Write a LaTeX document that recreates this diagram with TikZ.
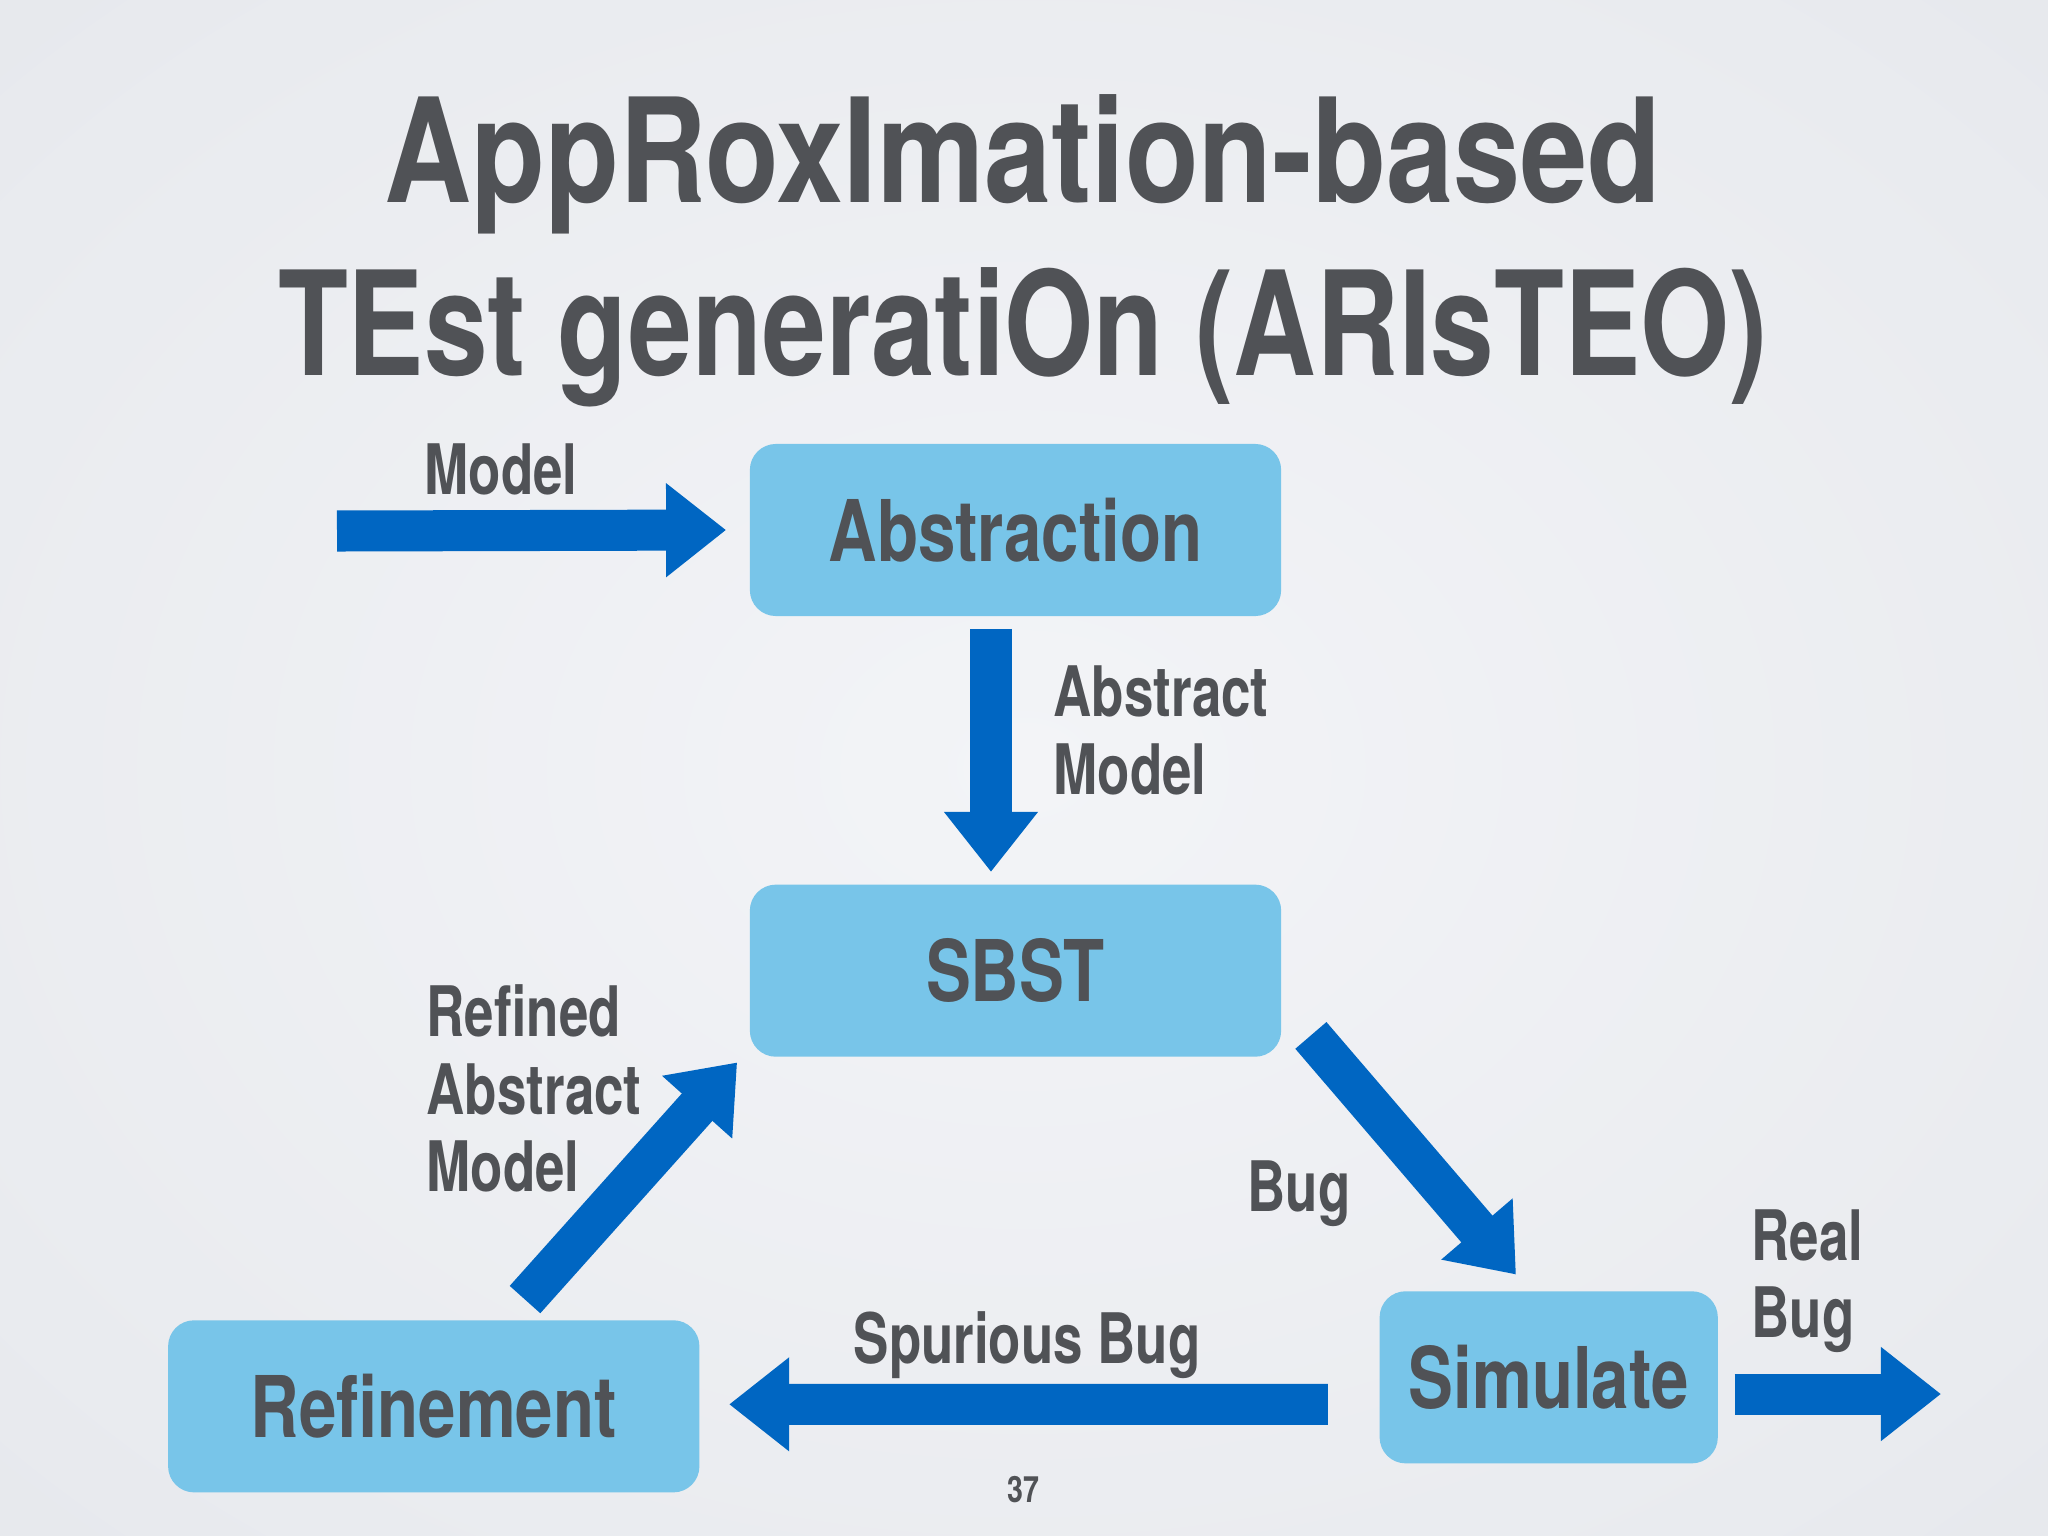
\documentclass[tikz,border=0pt]{standalone}
\usepackage{fontspec}
\setmainfont{TeX Gyre Heros}[FakeStretch=0.79]
\newfontfamily\lblfont{TeX Gyre Heros}[FakeStretch=0.76]
\newfontfamily\widefont{TeX Gyre Heros}[FakeStretch=0.833]
\usetikzlibrary{positioning,arrows.meta}
\definecolor{boxblue}{RGB}{120,197,233}
\definecolor{arrblue}{RGB}{0,102,194}
\definecolor{txtgray}{RGB}{80,82,86}
\definecolor{bgin}{RGB}{243,244,247}
\definecolor{bgmid}{RGB}{233,235,239}
\definecolor{bgout}{RGB}{214,216,222}
\pgfdeclareradialshading{slidebg}{\pgfpoint{0bp}{0bp}}{color(0bp)=(bgin);color(30bp)=(bgmid);color(71bp)=(bgout)}
\begin{document}
\begin{tikzpicture}[x=0.01cm,y=-0.01cm,
	stage/.style={fill=boxblue,rounded corners=0.26cm,minimum height=1.72cm,text=txtgray,font=\fontsize{24.2}{28}\selectfont\bfseries},
	fat/.style={arrblue,line width=0.41cm,-{Triangle[width=0.9cm,length=0.6cm]}},
	lbl/.style={anchor=base west,inner sep=0,align=left,text=txtgray,font=\lblfont\fontsize{19.8}{21.9}\selectfont\bfseries},
	headline/.style={anchor=base,inner sep=0,text=txtgray,font=\fontsize{41.2}{49}\selectfont\bfseries}]
	\shade[shading=slidebg] (0,0) rectangle (2048,1536);
	\useasboundingbox (0,0) rectangle (2048,1536);
	\node[headline,font=\widefont\fontsize{41.2}{49}\selectfont\bfseries] (title1) at (1023,202) {AppRoxImation-based};
	\node[headline] (title2) at (1023,375) {TEst generatiOn (ARIsTEO)};
	\node[stage,minimum width=5.31cm] (abs) at (1015.5,530) {Abstraction};
	\node[stage,minimum width=5.31cm,below=2.67cm of abs] (sbst) {SBST};
	\node[stage,minimum width=5.31cm,below left=2.62cm and 0.49cm of sbst] (ref) {Refinement};
	\node[stage,minimum width=3.38cm,below right=2.33cm and 0.97cm of sbst] (sim) {Simulate};
	\coordinate (in) at (337,531);
	\coordinate (out) at (1941,1394);
	\draw[fat] (in) -- ([xshift=-0.23cm]abs.west);
	\draw[fat] ([xshift=-0.245cm,yshift=-0.12cm]abs.south) -- ([xshift=-0.245cm,yshift=0.12cm]sbst.north);
	\draw[fat] ([xshift=0.29cm,yshift=0.22cm]sbst.south east) -- ([xshift=1.37cm,yshift=0.16cm]sim.north west);
	\draw[fat] ([xshift=-0.51cm,yshift=-0.27cm]sim.west) -- ([xshift=0.29cm,yshift=0.02cm]ref.east);
	\draw[fat] ([xshift=-1.75cm,yshift=0.2cm]ref.north east) -- ([xshift=-0.12cm,yshift=-0.05cm]sbst.south west);
	\draw[fat] ([xshift=0.16cm]sim.east |- out) -- (out);
	\node[lbl] (lmodel) at (424,494) {Model};
	\node[lbl] (labs) at (1053,794) {Abstract\\Model};
	\node[lbl] (lref) at (426,1191) {Refined\\Abstract\\Model};
	\node[lbl] (lbug) at (1247,1211) {Bug};
	\node[lbl] (lreal) at (1751,1337) {Real\\Bug};
	\node[lbl] (lspur) at (853,1363) {Spurious Bug};
	\node[anchor=base,inner sep=0,text=txtgray,font=\fontsize{10.3}{12}\selectfont\bfseries] (page) at (1023,1502) {37};
\end{tikzpicture}
\end{document}
